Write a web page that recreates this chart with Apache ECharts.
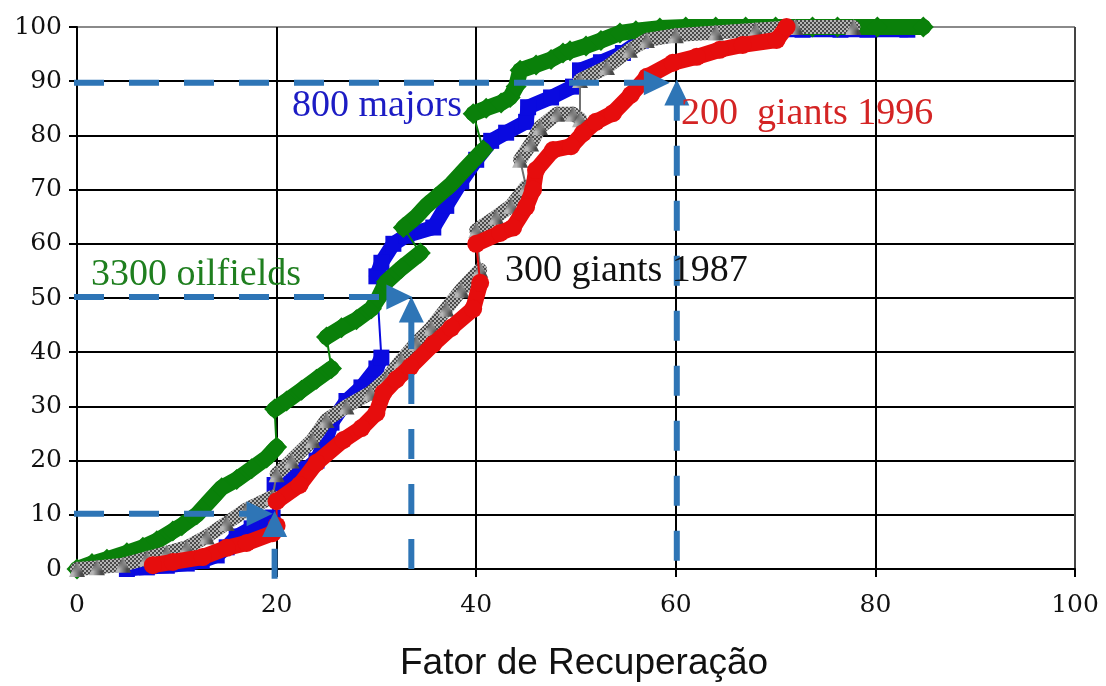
<!DOCTYPE html>
<html>
<head>
<meta charset="utf-8">
<script src="https://cdn.jsdelivr.net/npm/echarts@6/dist/echarts.min.js"></script>
<style>
html,body{margin:0;padding:0;background:#fff;}
#chart{width:1106px;height:686px;}
</style>
</head>
<body>
<div id="chart"></div>
<script>
// ---- data (x = recovery factor %, y = cumulative %), null = gap in the band ----
var oilfields3300 = [[0,0],[1.5,1],[3,1.8],[5,3],[6.6,4],[8,5.2],[9.6,7],[10.5,8],[12,10],[13.5,13],[14.5,15],[16,16.5],[17.5,18.5],[19,20.5],[20,22.5],null,
  [19.8,29.5],[21,31],[22.5,33],[24,35],[25.5,37],null,
  [25,42.8],[26.5,44.5],[28,46],[29.5,48],[30.2,50],[31,53],[32.5,55.5],[34.4,58.3],null,
  [32.7,63],[34,65],[35,67],[36,68.6],[37.5,71],[39,74],[40.7,77.3],null,
  [39.7,84],[41,85],[42.5,86],[43.4,87],[44,89],[44.4,92],[46,93],[47.5,94],[48.7,95.2],[49.4,95.6],[51,96.5],[52.5,97.5],[54.4,98.9],[56,99.3],[58.4,99.8],
  [61,100],[64,100],[67,100],[70,100],[73.7,100],[76.2,100],[80.2,100],[84.8,100]];
var majors800 = [[5,0],[7,0.3],[9,0.6],[11,1],[12.5,1.5],[14,2.5],[15,4],[16,6],[17.5,7.5],[19.6,9.5],null,
  [19.8,15.5],[21.6,17],[23,18.5],[24,20],[25,24],[25.5,27],[27,31],[28.5,33.5],[30,37],[30.5,39],null,
  [30,54],[30.5,56.5],[31.7,60],[33,61.5],[35.7,63],[37,67],[38.5,71.5],[40,75.5],[41.5,79],[43,80.5],[45,82.5],[45.2,85.2],[47.5,87],[49.7,89],null,
  [50.4,92],[52.5,93.5],[54.7,95.2],[56.5,97.5],[58.5,98.5],[60,99.2],[62,99.5],[66,99.5],[70,99.5],[72.7,99.5],[76.5,99.5],[79.2,99.5],[83.2,99.5]];
var giants1987 = [[0,0],[2,0.3],[4.6,0.8],[7,2],[9,3],[11,4],[13,6],[15,8.5],[17,11],[19.6,13.3],null,
  [20,17.5],[21.5,20],[23.6,23.8],[25,27.5],[27,30],[29.4,32.5],[31,35],[32.5,38.5],[34,41.7],[35.5,44.5],[37,48],[38.5,51.5],[40.4,55.2],null,
  [40,62.5],[42,65],[43.5,67],[45,70.5],null,
  [44.4,75.5],[45.5,78.5],[46.4,81.5],[48.1,84],[49.7,84],[50.4,83],null,
  [50.4,90.2],[53.1,92.6],[55.4,95.8],[57.1,97.6],[60,98.5],[64,99],[68,99.5],[72,100],[77.8,100]];
var giants1996 = [[7.6,0.7],[9.6,1.3],[12.6,2.2],[15,3.9],[17,4.8],[19.6,6.6],[20,8],null,
  [20,12.5],[22.3,15.5],[24,19.6],[26.7,23.8],[28.5,26],[30,28.8],[30.7,32.5],[32,35],[33.4,37.3],[35.7,41.5],[37.5,44.5],[39.7,48],[40.4,52.8],null,
  [40,60],[42.4,62],[43.7,63],[45,66.8],[45.7,70],[46,73.6],[47.7,77.3],[49.5,78],[50.7,80.4],[52,82.5],[53.7,84.1],[55.5,87.5],[57.1,90.8],[59.7,93.4],[62.1,94.5],[64.4,95.8],[66.7,96.7],[70.1,97.6],[71.1,100]];

var xTicks = [0,20,40,60,80,100];
var yTicks = [0,10,20,30,40,50,60,70,80,90,100];

// annotation arrows: start point, arrow-head centre point, direction
var arrowFrom = [[-0.3,10.2],[19.8,-1.8],[-0.3,50.2],[33.5,0],[-0.3,89.7],[60.1,1.5]];
var arrowTo   = [[18.3,10.2],[19.8,8.3],[32.3,50.2],[33.5,47.9],[58.1,89.7],[60.1,87.9]];
var arrowDir  = ['right','up','right','up','right','up'];

var seriesLabels = [
  {text:'800 majors', color:'#1c1cc4', x:292, y:107},
  {text:'200  giants 1996', color:'#d42424', x:681, y:115},
  {text:'3300 oilfields', color:'#1f7f1f', x:91, y:276},
  {text:'300 giants 1987', color:'#111111', x:505, y:272}
];

function hatch() {
  var c = document.createElement('canvas');
  c.width = 4; c.height = 4;
  var g = c.getContext('2d');
  g.fillStyle = '#b5b5b5'; g.fillRect(0,0,4,4);
  g.fillStyle = '#4a4a4a';
  g.fillRect(0,0,2,2); g.fillRect(2,2,2,2);
  return {image: c, repeat: 'repeat'};
}

function noNull(a){ return a.filter(function(p){return p!==null;}); }
function withGaps(a){ return a.map(function(p){return p===null?['-','-']:p;}); }

function band(name, data, color, symbol, size, width, z, lineColor) {
  return [{
    name: name+'-thin', type:'line', data: noNull(data), showSymbol:false, symbol:'none',
    lineStyle:{color: color, width:2}, z: z, silent:true, animation:false
  },{
    name: name, type:'line', data: withGaps(data), connectNulls:false,
    symbol: symbol, symbolSize: size, showSymbol:true,
    itemStyle:{color: lineColor || color},
    lineStyle:{color: lineColor || color, width:width, cap:'round', join:'round'},
    z: z+1, silent:true, animation:false
  }];
}

var chart = echarts.init(document.getElementById('chart'), null, {renderer:'canvas'});
var gray = hatch();
var series = [].concat(
  band('800 majors', majors800, '#0a0ae0', 'rect', 16, 15, 2),
  band('3300 oilfields', oilfields3300, '#0a800a', 'diamond', 21, 16, 4),
  band('300 giants 1987', giants1987, '#707070', 'triangle', 16, 14, 6, gray),
  band('200 giants 1996', giants1996, '#e60d0d', 'circle', 18, 16, 8)
);

arrowFrom.forEach(function(f, i){
  var t = arrowTo[i];
  series.push({
    type:'line', clip:false, z:30, silent:true, animation:false,
    data:[
      {value:f, symbol:'none'},
      {value:t, symbol:'triangle', symbolSize:[25,26], symbolRotate: arrowDir[i]==='right' ? -90 : 0}
    ],
    showSymbol:true, showAllSymbol:true,
    itemStyle:{color:'#2e75b6'},
    lineStyle:{color:'#2e75b6', width:6, type:[30,25]}
  });
});

var yColors = yTicks.map(function(v){ return v===100 ? '#8a8a8a' : '#000'; });
var xColors = xTicks.map(function(v){ return v===100 ? '#444' : '#000'; });

chart.setOption({
  animation:false,
  backgroundColor:'#ffffff',
  grid:{left:77, right:31, top:27, bottom:117, containLabel:false},
  xAxis:{
    type:'value', min:0, max:100, interval:20,
    axisLine:{show:true, onZero:false, lineStyle:{color:'#000', width:2}},
    axisTick:{show:true, length:8, lineStyle:{color:'#000', width:2}},
    axisLabel:{fontFamily:'DejaVu Serif', fontSize:25, color:'#111', margin:24,
      formatter:function(v){ return xTicks.indexOf(v)>=0 ? String(v) : ''; }},
    splitLine:{show:true, lineStyle:{color:xColors, width:2}}
  },
  yAxis:{
    type:'value', min:0, max:100, interval:10,
    axisLine:{show:true, onZero:false, lineStyle:{color:'#000', width:2}},
    axisTick:{show:true, length:8, lineStyle:{color:'#000', width:2}},
    axisLabel:{fontFamily:'DejaVu Serif', fontSize:25, color:'#111', margin:15,
      formatter:function(v){ return yTicks.indexOf(v)>=0 ? String(v) : ''; }},
    splitLine:{show:true, lineStyle:{color:yColors, width:2}}
  },
  series: series,
  graphic: seriesLabels.map(function(l){
    return {type:'text', left:l.x, top:l.y-20, z:40, silent:true,
      style:{text:l.text, fill:l.color, font:'38px "Liberation Serif"'}};
  }).concat([{
    type:'text', left:400, top:645, z:40, silent:true,
    style:{text:'Fator de Recuperação', fill:'#111', font:'37px "Liberation Sans"'}
  }])
});
</script>
</body>
</html>
